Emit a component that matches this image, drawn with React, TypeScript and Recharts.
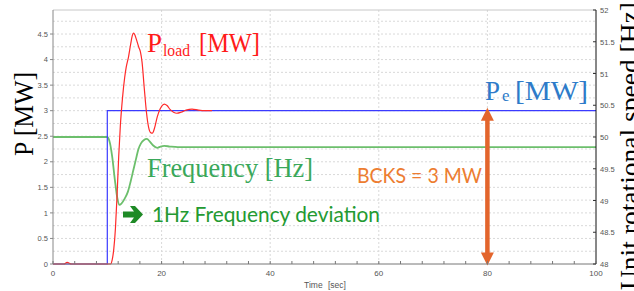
import React from "react";
import { CartesianGrid, ComposedChart, Line, ReferenceLine, XAxis, YAxis } from "recharts";

// P_load [MW] (red), ends near 29 s
const loadTime = [0, 2.0, 2.6, 3.4, 10.6, 10.9, 11.2, 11.5, 11.8, 12.1, 12.4, 12.8, 13.2, 13.5, 13.9, 14.3, 14.6, 14.8, 15.0, 15.4, 15.8, 16.1, 16.4, 16.8, 17.2, 17.6, 18.0, 18.3, 18.7, 19.2, 19.7, 20.1, 20.5, 21.0, 21.6, 22.2, 22.8, 23.6, 24.5, 25.6, 26.8, 28.0, 29.3];
const loadMW = [0, 0, 0.03, 0, 0, 0.08, 0.3, 0.7, 1.35, 2.1, 2.7, 3.25, 3.65, 3.86, 4.05, 4.3, 4.47, 4.52, 4.5, 4.38, 4.24, 4.15, 3.95, 3.45, 2.98, 2.68, 2.57, 2.56, 2.66, 2.88, 3.03, 3.1, 3.13, 3.1, 3.02, 2.97, 2.95, 2.97, 3.01, 3.03, 3.01, 3.0, 3.0];

// P_e [MW] (blue step)
const peTime = [0, 10, 100];
const peMW = [0, 3, 3];

// frequency [Hz] (green, right axis)
const freqTime = [0, 10, 10.5, 10.9, 11.4, 11.8, 12.2, 12.6, 13.2, 13.8, 14.3, 14.8, 15.3, 15.7, 16.2, 16.7, 17.3, 17.8, 18.4, 19.2, 19.8, 20.5, 21.5, 23, 100];
const freqHz = [50, 50, 49.9, 49.69, 49.32, 49.06, 48.93, 48.95, 49.03, 49.14, 49.3, 49.48, 49.66, 49.8, 49.9, 49.95, 49.97, 49.93, 49.87, 49.83, 49.85, 49.86, 49.85, 49.84, 49.84];

const mwTicks = [0, 0.5, 1, 1.5, 2, 2.5, 3, 3.5, 4, 4.5];
const mwGrid = [0.25, 0.5, 0.75, 1, 1.25, 1.5, 1.75, 2, 2.25, 2.5, 2.75, 3, 3.25, 3.5, 3.75, 4, 4.25, 4.5, 4.75];
const hzTicks = [48, 48.5, 49, 49.5, 50, 50.5, 51, 51.5, 52];
const timeTicks = [0, 4, 8, 12, 16, 20, 24, 28, 32, 36, 40, 44, 48, 52, 56, 60, 64, 68, 72, 76, 80, 84, 88, 92, 96, 100];
const timeLabels = [0, 20, 40, 60, 80, 100];
const timeGrid = [20, 40, 60, 80];
const mwMax = 4.97;

const bcksTime = 80;
const bcksMW = 3;

const loadData = loadTime.map((t, i) => ({ time: t, mw: loadMW[i] }));
const peData = peTime.map((t, i) => ({ time: t, mw: peMW[i] }));
const freqData = freqTime.map((t, i) => ({ time: t, hz: freqHz[i] }));

const tickFont = "Liberation Sans, Arial, sans-serif";
const serif = "Liberation Serif, Times New Roman, serif";
const sans = "Lato, Open Sans, sans-serif";

function TimeTick({ x, y, payload }: any) {
  const v = payload.value;
  return (
    <g>
      <line x1={x} y1={y} x2={x} y2={y - 3} stroke="#777" />
      {timeLabels.includes(v) && (
        <text x={x} y={y + 12} textAnchor="middle" fontSize={8} fill="#555" fontFamily={tickFont}>
          {v}
        </text>
      )}
    </g>
  );
}

function HzTick({ x, y, payload }: any) {
  return (
    <g>
      <line x1={x} y1={y} x2={x - 3} y2={y} stroke="#333" />
      <text x={x + 4} y={y + 3} fontSize={7.5} fill="#555" fontFamily={tickFont}>
        {payload.value}
      </text>
    </g>
  );
}

function BcksArrow(props: any) {
  const { x1, y1, y2 } = props;
  const top = Math.min(y1, y2) - 3;
  const bottom = Math.max(y1, y2) + 1.5;
  const c = "#e3652c";
  return (
    <g>
      <line x1={x1} y1={top + 12} x2={x1} y2={bottom - 12} stroke={c} strokeWidth={4.5} />
      <path d={`M${x1},${top} L${x1 - 6.5},${top + 13} L${x1 + 6.5},${top + 13} Z`} fill={c} />
      <path d={`M${x1},${bottom} L${x1 - 6.5},${bottom - 13} L${x1 + 6.5},${bottom - 13} Z`} fill={c} />
    </g>
  );
}

export default function App() {
  return (
    <div style={{ position: "relative", width: 634, height: 291, overflow: "hidden", background: "#fff" }}>
      <style>{"body{margin:0}"}</style>
      <ComposedChart width={634} height={291} margin={{ top: 10, right: 0, bottom: 0, left: 0 }}>
        <CartesianGrid
          yAxisId="mw"
          horizontalValues={mwGrid}
          verticalValues={timeGrid}
          stroke="#d9d9d9"
          strokeDasharray="2 2"
        />
        <XAxis
          dataKey="time"
          type="number"
          domain={[0, 100]}
          ticks={timeTicks}
          interval={0}
          height={27}
          tickSize={0}
          tickMargin={0}
          tickLine={false}
          tick={<TimeTick />}
          stroke="#777"
        />
        <YAxis
          yAxisId="mw"
          orientation="left"
          type="number"
          domain={[0, mwMax]}
          ticks={mwTicks}
          interval={0}
          width={53}
          tickSize={3}
          tickMargin={2}
          stroke="#888"
          tick={{ fontSize: 7.5, fill: "#555", fontFamily: tickFont }}
        />
        <YAxis
          yAxisId="hz"
          orientation="right"
          type="number"
          domain={[48, 52]}
          ticks={hzTicks}
          interval={0}
          width={38}
          tickSize={0}
          tickMargin={0}
          tickLine={false}
          tick={<HzTick />}
          stroke="#111"
        />
        <ReferenceLine yAxisId="mw" y={mwMax} stroke="#c8c8c8" />
        <Line
          yAxisId="hz"
          data={freqData}
          dataKey="hz"
          type="monotone"
          stroke="#6cbf6c"
          strokeWidth={1.8}
          dot={false}
          isAnimationActive={false}
        />
        <Line
          yAxisId="mw"
          data={peData}
          dataKey="mw"
          type="stepAfter"
          stroke="#3a3aff"
          strokeWidth={1.2}
          dot={false}
          isAnimationActive={false}
        />
        <Line
          yAxisId="mw"
          data={loadData}
          dataKey="mw"
          type="monotone"
          stroke="#ff2a2a"
          strokeWidth={1.2}
          dot={false}
          isAnimationActive={false}
        />
        <ReferenceLine
          yAxisId="mw"
          segment={[
            { x: bcksTime, y: 0 },
            { x: bcksTime, y: bcksMW },
          ]}
          shape={BcksArrow}
        />
      </ComposedChart>

      <svg
        width={634}
        height={291}
        style={{ position: "absolute", left: 0, top: 0, pointerEvents: "none" }}
      >
        {/* P_load */}
        <text x={147} y={52} fontSize={27} fontFamily={serif} fill="#ff1a1a">P</text>
        <text x={163} y={56} fontSize={17} fontFamily={serif} fill="#ff1a1a" textLength={27} lengthAdjust="spacingAndGlyphs">load</text>
        <text x={199} y={52} fontSize={27} fontFamily={serif} fill="#ff1a1a" textLength={61} lengthAdjust="spacingAndGlyphs">[MW]</text>

        {/* P_e */}
        <text x={485} y={100} fontSize={27} fontFamily={serif} fill="#2e7bc9">P</text>
        <text x={502} y={101} fontSize={17} fontFamily={serif} fill="#2e7bc9">e</text>
        <text x={515} y={100} fontSize={27} fontFamily={serif} fill="#2e7bc9" textLength={73} lengthAdjust="spacingAndGlyphs">[MW]</text>

        {/* Frequency */}
        <text x={147} y={177} fontSize={27} fontFamily={serif} fill="#3aa85a" textLength={166} lengthAdjust="spacingAndGlyphs">Frequency [Hz]</text>

        {/* 1Hz deviation */}
        <path d="M123,211.5 L134,211.5 L130,206 L135,206 L143,214.5 L135,223 L130,223 L134,217.5 L123,217.5 Z" fill="#1e8a26" />
        <text x={152} y={222} fontSize={21} fontFamily={sans} fill="#239a31" textLength={228} lengthAdjust="spacingAndGlyphs">1Hz Frequency deviation</text>

        {/* BCKS */}
        <text x={357} y={183} fontSize={21} fontFamily={sans} fill="#ed7d31" textLength={125} lengthAdjust="spacingAndGlyphs">BCKS = 3 MW</text>

        {/* axis titles */}
        <text x={33} y={114} fontSize={27} fontFamily={serif} fill="#000" textAnchor="middle" transform="rotate(-90 33 114)" textLength={84} lengthAdjust="spacingAndGlyphs">P [MW]</text>
        <text x={639} y={146} fontSize={28} fontFamily={serif} fill="#000" textAnchor="middle" transform="rotate(-90 639 146)" textLength={288} lengthAdjust="spacingAndGlyphs">Unit rotational speed [Hz]</text>
        <text x={325} y={288} fontSize={8.5} fontFamily={tickFont} fill="#555" textAnchor="middle" wordSpacing={3}>Time [sec]</text>
      </svg>
    </div>
  );
}
